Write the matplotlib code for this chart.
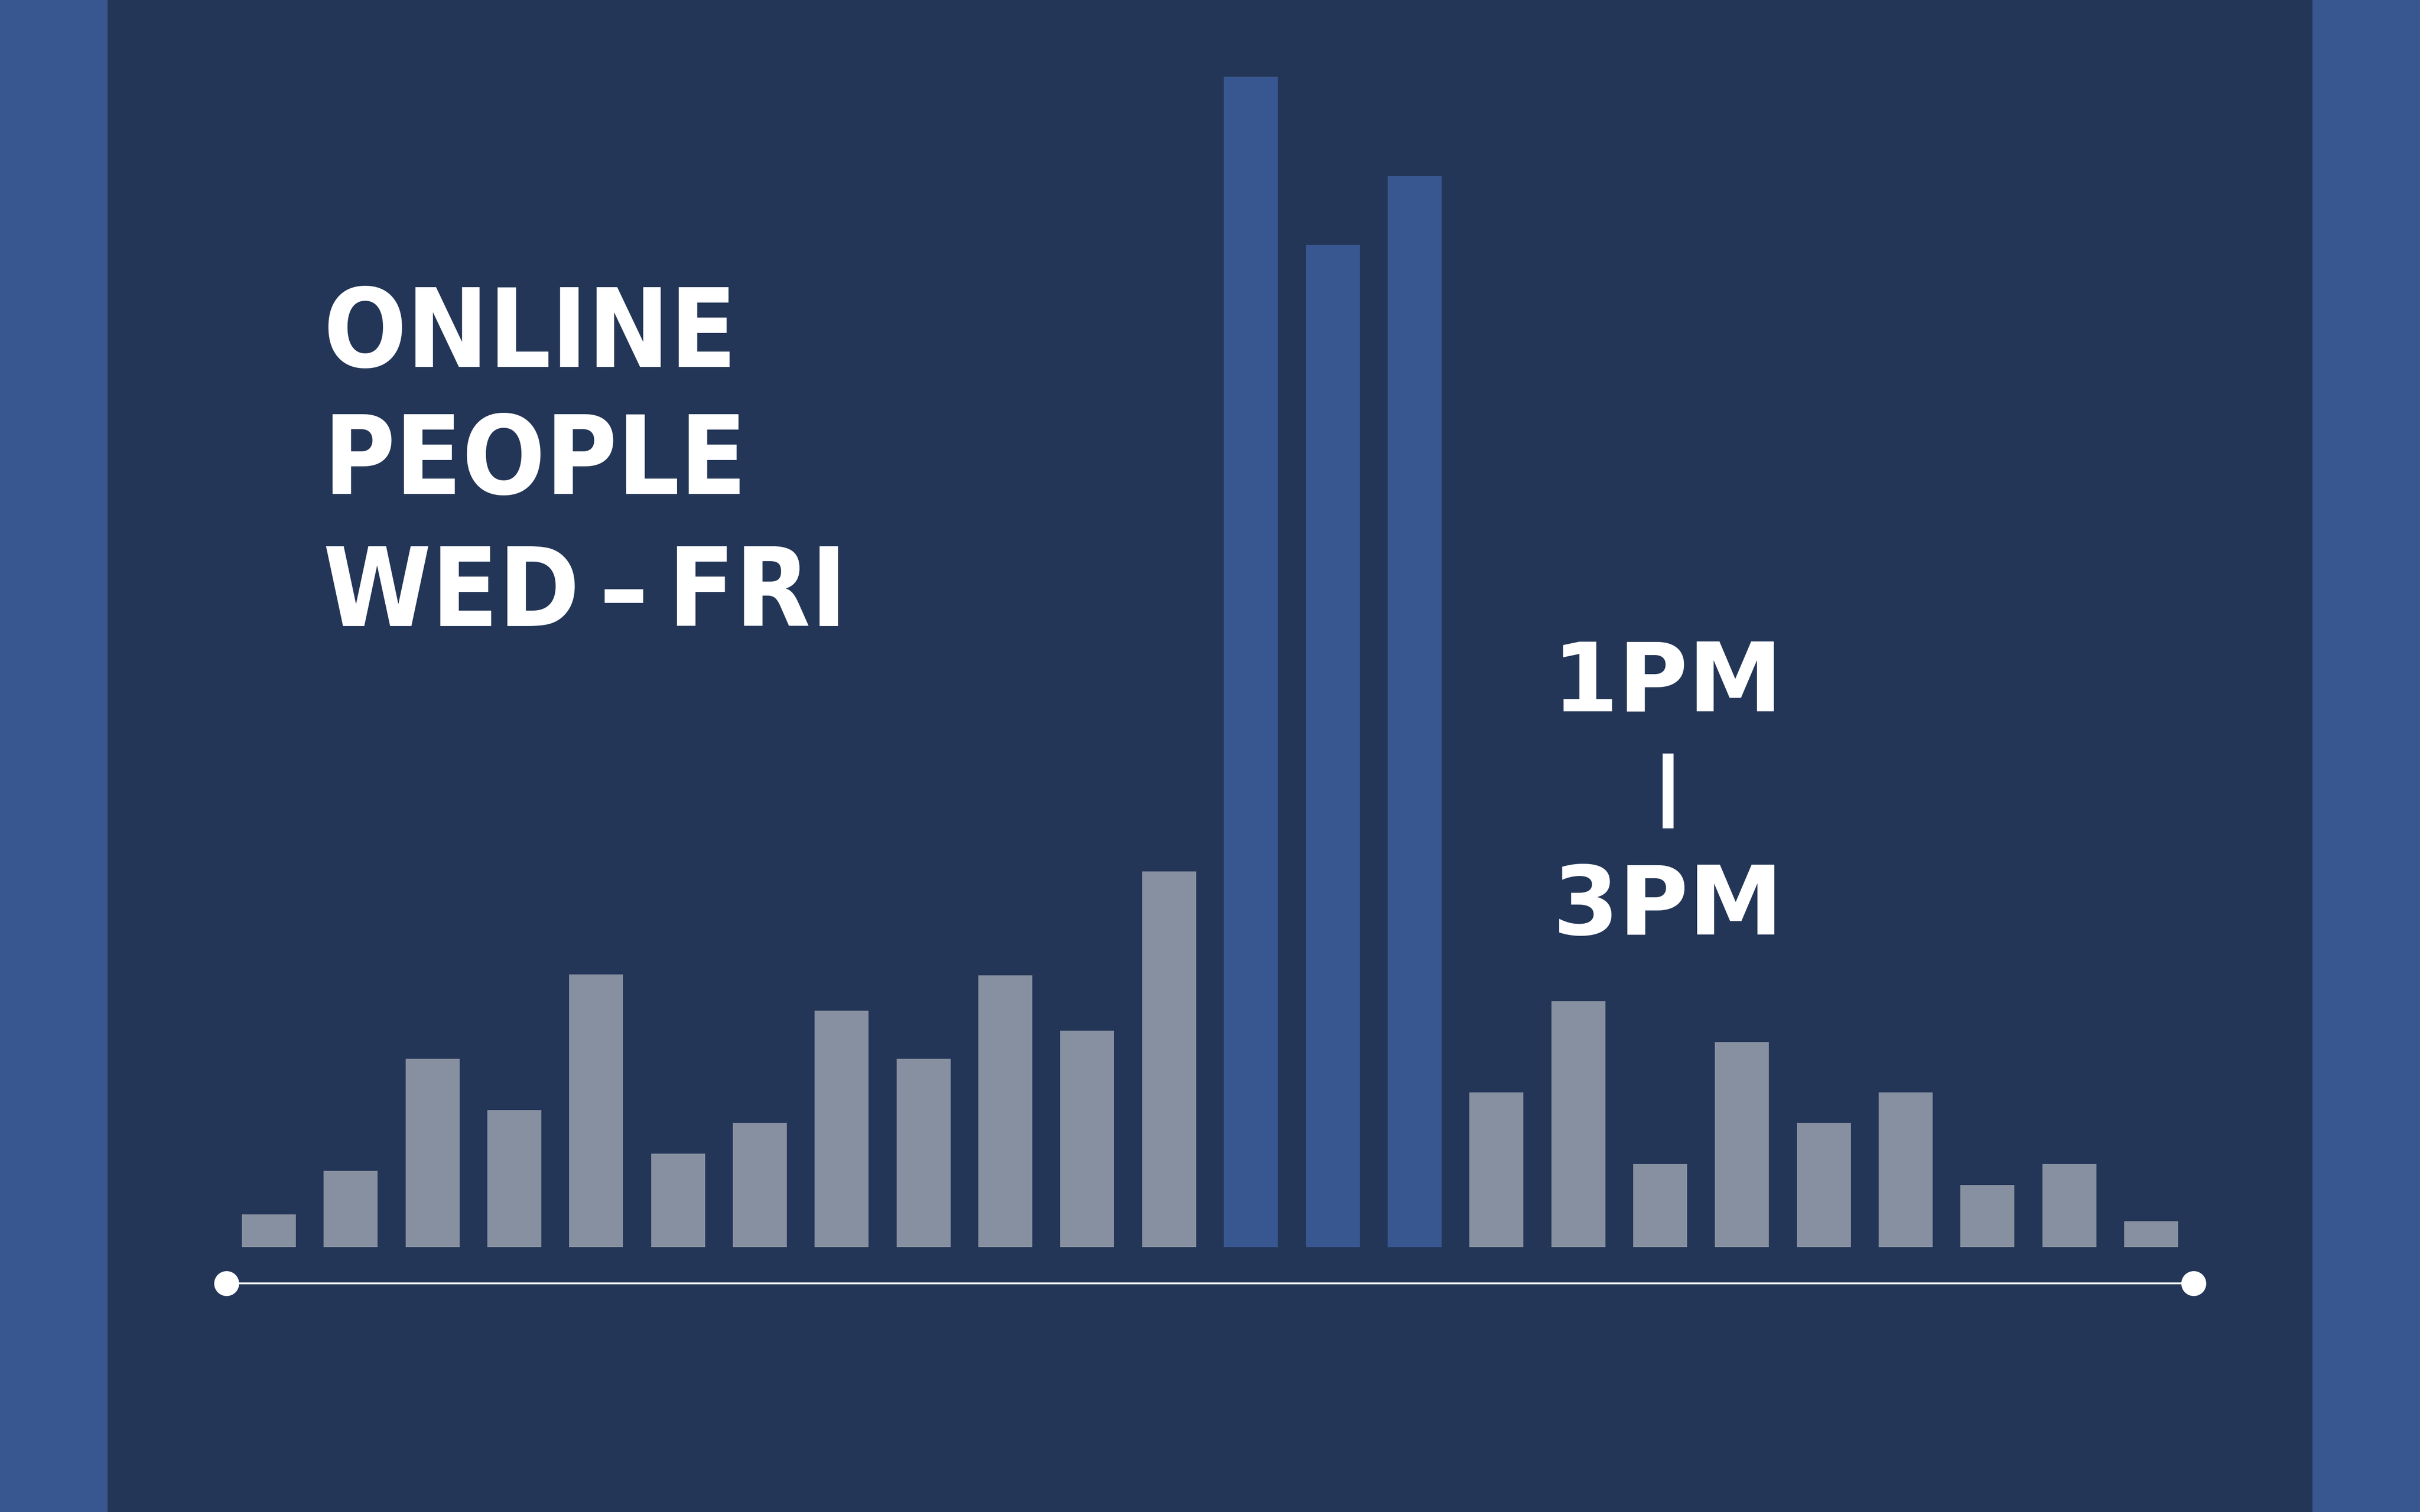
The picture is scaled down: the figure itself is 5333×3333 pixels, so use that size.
import matplotlib
matplotlib.use("Agg")
import matplotlib.pyplot as plt
from matplotlib.patches import Rectangle
from matplotlib.lines import Line2D

# ---- data ----
hours = list(range(24))
online_people = [28, 65, 161, 117, 233, 80, 106, 202, 161, 232, 185, 321,
                 1000, 856, 915, 132, 210, 71, 175, 106, 132, 53, 71, 22]
highlight_hours = [12, 13, 14]
title_lines = ["ONLINE", "PEOPLE", "WED\u2009\u2013\u2009FRI"]
peak_labels = ["1PM", "3PM"]

# ---- styling ----
BG = "#243657"
BAND = "#38568F"
GRAY = "#8790A0"
BLUE = "#38568F"

W, H = 5333, 3333
fig = plt.figure(figsize=(W / 100, H / 100), dpi=100, facecolor=BG)

# side bands (decoration)
fig.add_artist(Rectangle((0, 0), 237 / W, 1, transform=fig.transFigure,
                         facecolor=BAND, edgecolor="none", zorder=0))
fig.add_artist(Rectangle((5096 / W, 0), 1 - 5096 / W, 1, transform=fig.transFigure,
                         facecolor=BAND, edgecolor="none", zorder=0))

ax = fig.add_axes([0, 0, 1, 1])
ax.set_facecolor("none")
ax.axis("off")

colors = [BLUE if h in highlight_hours else GRAY for h in hours]
ax.bar(hours, online_people, width=0.66, color=colors, linewidth=0, zorder=2)

# baseline axis with end dots
ax.plot([hours[0] - 0.52, hours[-1] + 0.52], [-31, -31], color="white",
        lw=2.9, marker="o", markersize=39.6, markeredgewidth=0, zorder=3)

ax.set_xlim(-3.285, 26.285)
ax.set_ylim(-226.4, 1065.5)

# title text
title_baselines = [809, 1089, 1380]
for txt, yb in zip(title_lines, title_baselines):
    fig.text(712 / W, 1 - yb / H, txt, fontsize=173, fontweight="bold",
             fontstretch="condensed", color="white", ha="left", va="baseline",
             family="DejaVu Sans")

# peak labels
fig.text(3420 / W, 1 - 1568 / H, peak_labels[0], fontsize=151, fontweight="bold",
         color="white", ha="left", va="baseline", family="DejaVu Sans")
fig.text(3422 / W, 1 - 2060 / H, peak_labels[1], fontsize=151, fontweight="bold",
         color="white", ha="left", va="baseline", family="DejaVu Sans")
fig.add_artist(Line2D([3676 / W, 3676 / W], [1 - 1661 / H, 1 - 1826 / H],
                      transform=fig.transFigure, color="white", lw=17.3,
                      solid_capstyle="butt"))

fig.savefig("out.png", dpi=100, facecolor=BG)
